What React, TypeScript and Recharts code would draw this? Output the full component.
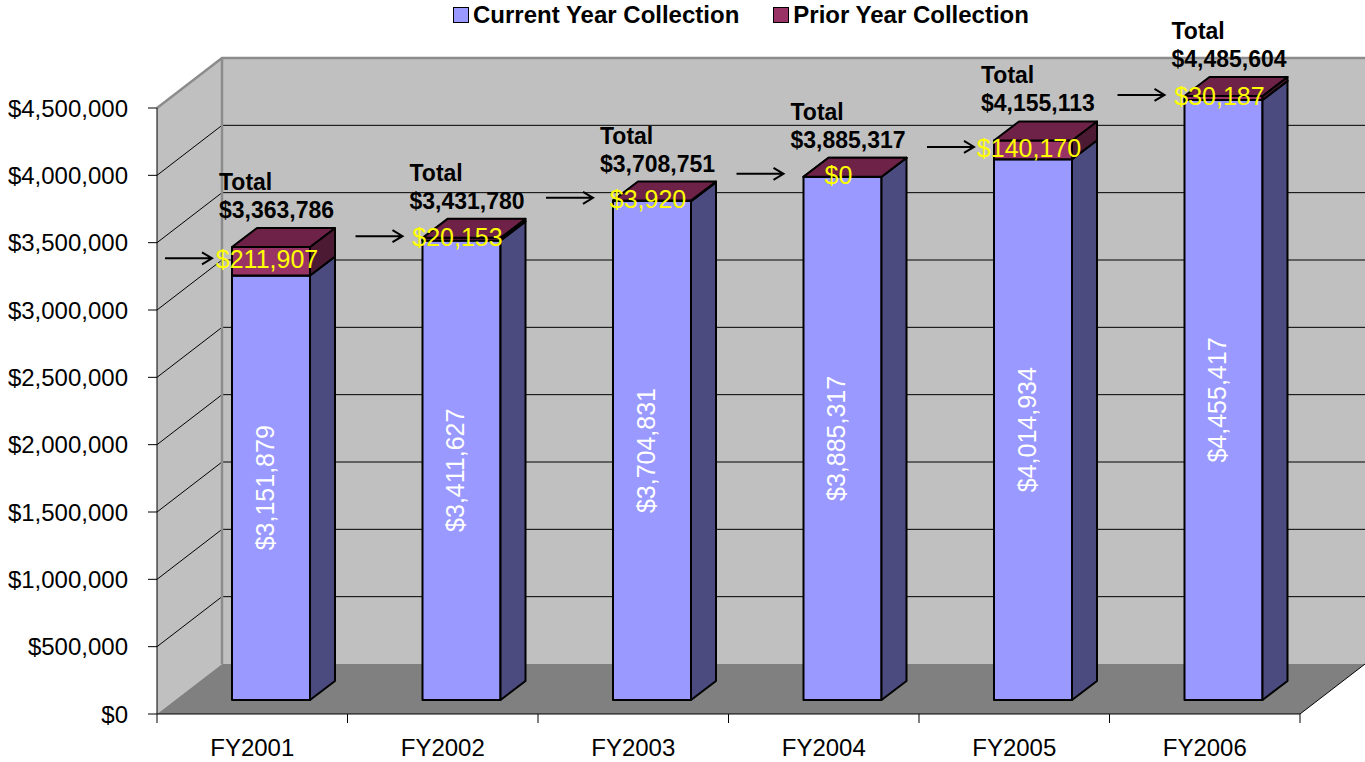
import React from 'react';
import { BarChart, Bar, XAxis, YAxis, Legend, ReferenceArea, LabelList } from 'recharts';

const categories = ['FY2001', 'FY2002', 'FY2003', 'FY2004', 'FY2005', 'FY2006'];
const currentYear = [3151879, 3411627, 3704831, 3885317, 4014934, 4455417];
const priorYear = [211907, 20153, 3920, 0, 140170, 30187];
const totals = [3363786, 3431780, 3708751, 3885317, 4155113, 4485604];
const yTicks = [0, 500000, 1000000, 1500000, 2000000, 2500000, 3000000, 3500000, 4000000, 4500000];

const data = categories.map((fy, i) => ({
  fy,
  current: currentYear[i],
  prior: priorYear[i],
  total: totals[i],
}));

const FONT = '"Liberation Sans", Arial, Helvetica, sans-serif';
const money = (v: number) => '$' + Number(v).toLocaleString('en-US');

// fake 3d: depth of the walls, and where the boxes sit inside it
const WALL_DX = 65;
const WALL_DY = -50;
const BOX_X = 19;
const BOX_Y = -14;
const BOX_DX = 25;
const BOX_DY = -19;

const CUR = { front: '#9999FF', side: '#4B4B80' };
const PRI = { front: '#993366', side: '#4C1A33', top: '#6E2248' };

const Box = (p: any, c: any, topFill: string) => {
  const x = p.x + BOX_X;
  const y = p.y + BOX_Y;
  const w = p.width;
  const h = p.height || 0;
  return (
    <g stroke="#000" strokeWidth={2} strokeLinejoin="round">
      <rect x={x} y={y} width={w} height={h} fill={c.front} />
      <polygon
        points={`${x + w},${y} ${x + w + BOX_DX},${y + BOX_DY} ${x + w + BOX_DX},${y + h + BOX_DY} ${x + w},${y + h}`}
        fill={c.side}
      />
      <polygon
        points={`${x},${y} ${x + BOX_DX},${y + BOX_DY} ${x + w + BOX_DX},${y + BOX_DY} ${x + w},${y}`}
        fill={topFill}
      />
    </g>
  );
};

const CurrentShape = (p: any) => Box(p, CUR, PRI.top);
const PriorShape = (p: any) => Box(p, PRI, PRI.top);

const box = (p: any) => {
  const vb = p.viewBox && typeof p.viewBox.x === 'number' ? p.viewBox : p;
  const h = vb.height || 0;
  const top = Math.min(vb.y, vb.y + h);
  return { x: vb.x + BOX_X, top: top + BOX_Y, w: vb.width, h: Math.abs(h) };
};

const CurrentLabel = (p: any) => {
  const b = box(p);
  const cx = b.x + b.w / 2 - 6;
  const cy = b.top + b.h / 2;
  return (
    <text x={cx} y={cy + 9} transform={`rotate(-90 ${cx} ${cy})`} textAnchor="middle"
      fill="#fff" fontSize={25} fontFamily={FONT}>
      {money(p.value)}
    </text>
  );
};

const PriorLabel = (p: any) => {
  const b = box(p);
  const cx = b.x + b.w / 2 - 4;
  const cy = b.top + b.h / 2 - 2;
  const ax = b.x - 20;
  const ay = cy - 1;
  return (
    <g>
      <path d={`M${ax - 47},${ay}H${ax}M${ax - 10},${ay - 6}L${ax},${ay}L${ax - 10},${ay + 6}`}
        stroke="#000" strokeWidth={2} fill="none" />
      <text x={cx} y={cy + 9} textAnchor="middle" fill="#FFFF00" fontSize={25} fontFamily={FONT}>
        {money(p.value)}
      </text>
    </g>
  );
};

const TotalLabel = (p: any) => {
  const b = box(p);
  const x = b.x - 13;
  return (
    <text fontFamily={FONT} fontSize={23} fontWeight="bold" fill="#000">
      <tspan x={x} y={b.top - 57}>Total</tspan>
      <tspan x={x} y={b.top - 29}>{money(p.value)}</tspan>
    </text>
  );
};

// back wall, side wall, floor and the gridlines drawn on them
const Walls = (p: any) => {
  const { x, y, width, height } = p;
  const L = x, R = x + width, T = y, B = y + height;
  const max = yTicks[yTicks.length - 1];
  const n = categories.length;
  return (
    <g>
      <rect x={L + WALL_DX} y={T + WALL_DY} width={width} height={height} fill="#C0C0C0" />
      <polygon points={`${L},${T} ${L + WALL_DX},${T + WALL_DY} ${L + WALL_DX},${B + WALL_DY} ${L},${B}`} fill="#C0C0C0" />
      <polygon points={`${L},${B} ${R},${B} ${R + WALL_DX},${B + WALL_DY} ${L + WALL_DX},${B + WALL_DY}`} fill="#808080" />
      {yTicks.filter((v) => v > 0 && v < max).map((v) => {
        const yy = B - (v / max) * height;
        return (
          <g key={v} stroke="#000" strokeWidth={1}>
            <line x1={L + WALL_DX} y1={yy + WALL_DY} x2={R + WALL_DX} y2={yy + WALL_DY} />
            <line x1={L} y1={yy} x2={L + WALL_DX} y2={yy + WALL_DY} />
          </g>
        );
      })}
      <g stroke="#8C8C8C" strokeWidth={2.5} fill="none">
        <path d={`M${L},${T}L${L + WALL_DX},${T + WALL_DY}H${R + WALL_DX}`} />
        <line x1={L + WALL_DX} y1={T + WALL_DY} x2={L + WALL_DX} y2={B + WALL_DY} />
      </g>
      <line x1={R} y1={B} x2={R + WALL_DX} y2={B + WALL_DY} stroke="#000" strokeWidth={1} />
      {categories.map((_, i) => (
        <line key={i} x1={L + (i * width) / n} y1={B} x2={L + (i * width) / n} y2={B + 9} stroke="#000" />
      ))}
      <line x1={R} y1={B} x2={R} y2={B + 9} stroke="#000" />
    </g>
  );
};

const XTick = (p: any) => (
  <text x={p.x} y={p.y + 42} textAnchor="middle" fill="#000" fontSize={24} fontFamily={FONT}>
    {p.payload.value}
  </text>
);

const legendItems = [
  { name: 'Current Year Collection', color: CUR.front },
  { name: 'Prior Year Collection', color: PRI.front },
];

const LegendBox = () => (
  <div style={{ display: 'flex', alignItems: 'center', fontFamily: FONT, fontWeight: 'bold', fontSize: 24, lineHeight: '30px', whiteSpace: 'nowrap', color: '#000' }}>
    {legendItems.map((it) => (
      <div key={it.name} style={{ display: 'flex', alignItems: 'center', marginRight: 34 }}>
        <span style={{ display: 'inline-block', width: 14, height: 14, border: '1px solid #000', background: it.color, marginRight: 4 }} />
        {it.name}
      </div>
    ))}
  </div>
);

export default function App() {
  return (
    <div style={{ position: 'absolute', left: 0, top: 0, width: 1365, height: 762, background: '#fff' }}>
      <BarChart width={1365} height={762} data={data} margin={{ top: 108, right: 65, bottom: 8, left: 0 }}>
        <ReferenceArea y1={0} y2={4500000} shape={Walls} ifOverflow="visible" />
        <XAxis dataKey="fy" height={40} tickLine={false} tickSize={0} tickMargin={0}
          axisLine={{ stroke: '#000' }} tick={XTick} interval={0} />
        <YAxis width={157} domain={[0, 4500000]} ticks={yTicks} tickFormatter={money} interval={0}
          tickSize={9} tickMargin={20} axisLine={{ stroke: '#000' }} tickLine={{ stroke: '#000' }}
          tick={{ fill: '#000', fontSize: 24, fontFamily: FONT }} />
        <Legend verticalAlign="middle" align="center" layout="horizontal"
          wrapperStyle={{ top: 0, left: 453, width: 700 }} content={() => <LegendBox />} />
        <Bar dataKey="current" name="Current Year Collection" stackId="a" barSize={78}
          fill={CUR.front} shape={CurrentShape} isAnimationActive={false}>
          <LabelList dataKey="current" content={CurrentLabel} />
        </Bar>
        <Bar dataKey="prior" name="Prior Year Collection" stackId="a" barSize={78}
          fill={PRI.front} shape={PriorShape} isAnimationActive={false}>
          <LabelList dataKey="prior" content={PriorLabel} />
          <LabelList dataKey="total" content={TotalLabel} />
        </Bar>
      </BarChart>
    </div>
  );
}
